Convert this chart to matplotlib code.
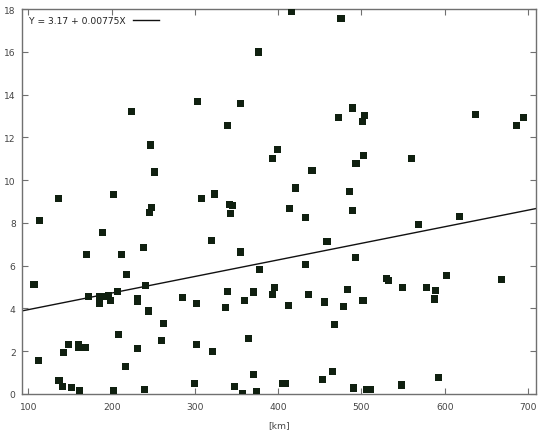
import matplotlib
matplotlib.use("Agg")
import matplotlib.pyplot as plt
import numpy as np

x_km = [
    375.8, 223.8, 303.4, 354.6, 338.6, 246.6, 251.4, 392.6, 398.6, 135.8,
    202.6, 307.4, 323.4, 247.4, 245.4, 341.8, 345.4, 342.2,
    415.4, 475.4, 489.4, 472.2, 503.8, 501.4, 636.6, 694.6, 686.2, 502.6,
    493.4, 560.6, 440.6, 420.2, 485.4, 413.0, 489.4, 432.6, 618.2,
    113.0, 188.6, 319.4, 237.8, 169.4, 211.8, 354.6, 217.8, 377.4, 106.6,
    240.6, 171.8, 185.8, 191.0, 195.8, 206.6, 185.4, 198.6, 230.6, 230.6,
    244.6, 285.4, 301.4, 339.4, 336.6, 369.8, 359.8, 262.6, 208.6, 259.8,
    111.8, 148.6, 160.6, 160.6, 168.6, 142.6, 230.6, 301.4, 320.6, 364.6,
    216.6, 370.6, 136.6, 140.6, 151.4, 161.8, 202.6, 239.4, 299.8, 347.4,
    356.6, 373.4,
    568.6, 458.6, 492.6, 432.6, 530.2, 532.6, 602.6, 668.6, 395.4, 393.4,
    549.4, 578.6, 588.6, 587.4, 483.4, 435.8, 455.4, 501.8, 412.6, 478.6,
    467.4, 465.4, 453.4, 405.4, 408.6, 490.6, 505.8, 511.0, 548.6, 592.6,
]
y_val = [
    15.99, 13.21, 13.68, 13.57, 12.57, 11.64, 10.38, 11.00, 11.44, 9.12,
    9.33, 9.13, 9.35, 8.70, 8.48, 8.84, 8.80, 8.44,
    17.90, 17.56, 13.37, 12.93, 13.01, 12.73, 13.07, 12.92, 12.54, 11.17,
    10.78, 10.99, 10.43, 9.63, 9.46, 8.66, 8.57, 8.24, 8.30,
    8.10, 7.53, 7.17, 6.87, 6.54, 6.54, 6.64, 5.59, 5.84, 5.11,
    5.08, 4.55, 4.55, 4.56, 4.61, 4.80, 4.22, 4.35, 4.46, 4.33,
    3.88, 4.53, 4.24, 4.81, 4.04, 4.77, 4.36, 3.29, 2.80, 2.49,
    1.57, 2.30, 2.32, 2.19, 2.16, 1.92, 2.13, 2.30, 1.98, 2.59,
    1.28, 0.93, 0.64, 0.36, 0.30, 0.14, 0.17, 0.23, 0.48, 0.33,
    0.01, 0.11,
    7.93, 7.13, 6.36, 6.04, 5.42, 5.30, 5.56, 5.37, 5.00, 4.63,
    4.98, 5.00, 4.83, 4.44, 4.89, 4.64, 4.30, 4.35, 4.13, 4.10,
    3.25, 1.04, 0.67, 0.51, 0.47, 0.28, 0.22, 0.19, 0.42, 0.76,
]
intercept = 3.17
slope = 0.00775
fit_label = "Y = 3.17 + 0.00775X"
x_ticks = [100, 200, 300, 400, 500, 600, 700]
y_ticks = [0, 2, 4, 6, 8, 10, 12, 14, 16, 18]
x_label = "[km]"

plt.rcParams['font.family'] = ['DejaVu Sans']
fig = plt.figure(figsize=(5.5, 4.35), dpi=100)
ax = fig.add_axes([0.04, 0.092, 0.9345, 0.885])
xlim = (92.2, 709.6)
ax.set_xlim(*xlim)
ax.set_ylim(0, 18)

ax.scatter(x_km, y_val, marker='s', s=26, color='#102010', edgecolors='none', zorder=3)
xl = np.array(xlim)
ax.plot(xl, intercept + slope * xl, color='#111111', lw=1.0, label=fit_label, zorder=2)

ax.set_xticks(x_ticks)
ax.set_yticks(y_ticks)
for s in ax.spines.values():
    s.set_color('#707070')
    s.set_linewidth(1.0)
ax.tick_params(direction='in', top=True, right=True, length=4, width=0.8,
               color='#707070', labelsize=6.6, labelcolor='#444444')
ax.tick_params(axis='x', pad=6)
ax.tick_params(axis='y', pad=4.5)
ax.set_xlabel(x_label, fontsize=6.6, color='#444444', labelpad=6)

leg = ax.legend(loc='upper left', frameon=False, markerfirst=False, fontsize=6.6,
                handlelength=2.8, borderaxespad=0.4, handletextpad=0.8)
for t in leg.get_texts():
    t.set_color('#222222')

fig.savefig("out.png", dpi=100)
